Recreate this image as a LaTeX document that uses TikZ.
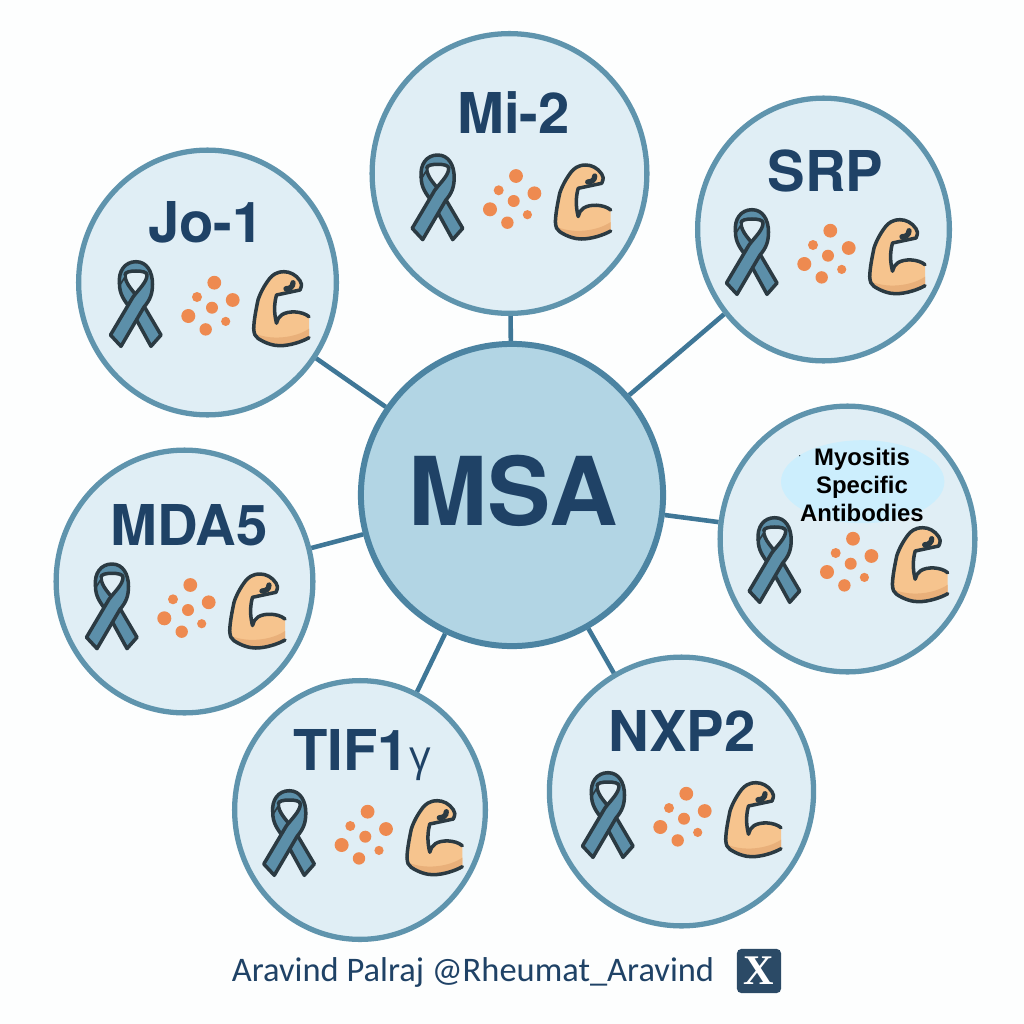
\documentclass[tikz,border=0pt]{standalone}
\usepackage{fontspec}
\usepackage{tikz}
\usetikzlibrary{shapes.geometric}
\usepackage{xcolor}
\setmainfont{TeX Gyre Heros}
\newfontfamily\greekfont{Open Sans}
\newfontfamily\myofont{Liberation Sans}
\newfontfamily\creditfont{Carlito}
\newfontfamily\xfont{Liberation Serif}
\definecolor{pagewhite}{HTML}{FDFEFE}
\definecolor{ringblue}{HTML}{5F94AD}
\definecolor{hubring}{HTML}{4C84A2}
\definecolor{hubfill}{HTML}{B2D5E4}
\definecolor{discfill}{HTML}{E0EEF5}
\definecolor{spokeblue}{HTML}{3F7797}
\definecolor{navytext}{HTML}{1F4266}
\definecolor{ribbonfill}{HTML}{5C8FA9}
\definecolor{inkline}{HTML}{2B3A42}
\definecolor{spotorange}{HTML}{EE8A50}
\definecolor{armfill}{HTML}{F6C48E}
\definecolor{armshade}{HTML}{E9B07A}
\definecolor{cloudblue}{HTML}{CCEEFD}
\definecolor{xbadge}{HTML}{2B4A66}
\tikzset{
    disc/.style 2 args={ellipse, draw=ringblue, fill=discfill, line width=1.5pt, minimum width=#1, minimum height=#2, inner sep=0pt},
    hub/.style={circle, draw=hubring, fill=hubfill, line width=1.7pt, minimum size=#1, inner sep=0pt},
    spoke/.style={draw=spokeblue, line width=1.3pt},
    disclabel/.style={anchor=base, text=navytext, font=\fontsize{16}{20}\selectfont\bfseries},
    pics/symptoms/.style={code={
        \begin{scope}[shift={(-76,-3.7)}, draw=inkline, line width=1pt, line join=round, line cap=round, fill=ribbonfill]
            \filldraw (-16.5,-20) .. controls (-16.5,-10) and (-12,-4) .. (-6,4) -- (15,42.3) -- (25,31) -- (5,-3) .. controls (-2,-12) and (-11,-20) .. (-11,-29) -- cycle;
            \filldraw (-16.5,-20) .. controls (-18,-33) and (-11,-42.3) .. (0,-42.3) .. controls (11,-42.3) and (16.5,-32) .. (16.5,-20) .. controls (16.5,-10) and (14,-4) .. (8,3) -- (-15,42.3) -- (-25.5,31) -- (-3,-7) .. controls (3,-15) and (11,-22) .. (11,-29) .. controls (11,-32) and (6,-33) .. (0,-33) .. controls (-6,-33) and (-11,-32) .. (-11,-29);
        \end{scope}
        \fill[spotorange] (2.3,-25) circle (6.9);
        \fill[spotorange] (-15,-10.7) circle (5);
        \fill[spotorange] (20.7,-7.7) circle (6.9);
        \fill[spotorange] (0,0) circle (6);
        \fill[spotorange] (-23.7,8.3) circle (7);
        \fill[spotorange] (13.7,13.7) circle (4.6);
        \fill[spotorange] (-6.3,21.7) circle (6.2);
        \fill[armfill] (97,9) .. controls (90,3) and (76,3) .. (70,7) .. controls (67,9) and (65,12) .. (64.5,15.5) .. controls (62,6) and (62,-4) .. (64.5,-12.7) -- (88,-17.7) .. controls (90,-22) and (90,-25) .. (88,-27) .. controls (84,-33) and (78,-36) .. (72,-36) .. controls (64,-36) and (60,-32) .. (57.7,-29.3) .. controls (52,-22) and (48,-14) .. (46,-7.7) .. controls (44,2) and (42,12) .. (41.7,20.7) .. controls (42,26) and (43,29) .. (46,30.7) .. controls (54,36) and (62,38) .. (67.7,38) .. controls (78,38) and (90,34) .. (97,30) -- cycle;
        \fill[armshade] (43.5,26) .. controls (60,33) and (84,30) .. (97,21) -- (97,30) .. controls (90,34) and (78,38) .. (67.7,38) .. controls (62,38) and (54,36) .. (46,30.7) -- cycle;
        \draw[draw=inkline, line width=1pt, line join=round, line cap=round] (97,9) .. controls (90,3) and (76,3) .. (70,7) .. controls (67,9) and (65,12) .. (64.5,15.5) .. controls (62,6) and (62,-4) .. (64.5,-12.7) -- (88,-17.7) .. controls (90,-22) and (90,-25) .. (88,-27) .. controls (84,-33) and (78,-36) .. (72,-36) .. controls (64,-36) and (60,-32) .. (57.7,-29.3) .. controls (52,-22) and (48,-14) .. (46,-7.7) .. controls (44,2) and (42,12) .. (41.7,20.7) .. controls (42,26) and (43,29) .. (46,30.7) .. controls (54,36) and (62,38) .. (67.7,38) .. controls (78,38) and (90,34) .. (97,30);
        \draw[draw=inkline, line width=1.5pt, line cap=round] (74,-19) .. controls (78,-19) and (81,-21) .. (81,-25);
    }}
}

\begin{document}
\begin{tikzpicture}[x=0.01cm, y=-0.01cm]
    \useasboundingbox (0,0) rectangle (1024,1024);
    \fill[pagewhite] (0,0) rectangle (1024,1024);

    \node[hub=3.02cm] (msa) at (512,495) {};
    \node[disc={2.746cm}{2.796cm}] (mi) at (509.5,173.5) {};
    \node[disc={2.516cm}{2.626cm}] (srp) at (823.5,229.5) {};
    \node[disc={2.546cm}{2.656cm}] (myo) at (847.5,539) {};
    \node[disc={2.64cm}{2.686cm}] (nxp) at (681.5,791.5) {};
    \node[disc={2.506cm}{2.586cm}] (tif) at (360,810) {};
    \node[disc={2.566cm}{2.626cm}] (mda) at (184.5,581.5) {};
    \node[disc={2.576cm}{2.646cm}] (jo) at (207.5,282.5) {};

    \draw[spoke] (msa) -- (mi);
    \draw[spoke] (msa) -- (srp);
    \draw[spoke] (msa) -- (myo);
    \draw[spoke] (msa) -- (nxp);
    \draw[spoke] (msa) -- (tif);
    \draw[spoke] (msa) -- (mda);
    \draw[spoke] (msa) -- (jo);

    \node at (513,525.7) [anchor=base, text=navytext, font=\fontsize{27}{32}\selectfont\bfseries] (msatext) {MSA};
    \node at (513.7,133.3) [disclabel] (mitext) {Mi-2};
    \node at (825.5,191) [disclabel] (srptext) {SRP};
    \node at (682,751.7) [disclabel] (nxptext) {NXP2};
    \node at (362,770.7) [disclabel] (tiftext) {TIF1{\greekfont\mdseries\fontsize{12}{14}\selectfont γ}};
    \node at (189,545.7) [disclabel] (mdatext) {MDA5};
    \node at (206,242.3) [disclabel] (jotext) {Jo-1};

    \fill[cloudblue] (862.7,481.7) ellipse [x radius=81.7, y radius=41.5];
    \fill[inkline] (799.7,455.7) circle (0.7);
    \node at (862,485) [align=center, text=black, font=\myofont\fontsize{6.8}{8}\selectfont\bfseries] (myotext) {Myositis\\Specific\\Antibodies};

    \pic at (513.7,201) {symptoms};
    \pic at (828,255.7) {symptoms};
    \pic at (850.7,563.7) {symptoms};
    \pic at (684,818.7) {symptoms};
    \pic at (365.3,836.7) {symptoms};
    \pic at (188,610) {symptoms};
    \pic at (212,307.7) {symptoms};

    \node at (473,972) [text=navytext, font=\creditfont\fontsize{9.8}{12}\selectfont] (credit) {Aravind Palraj @Rheumat\_Aravind};
    \node at (759,971) [fill=xbadge, rounded corners=1.2pt, minimum size=0.44cm, inner sep=0pt, text=white, font=\xfont\fontsize{12}{14}\selectfont\bfseries] (xbox) {X};
\end{tikzpicture}
\end{document}
